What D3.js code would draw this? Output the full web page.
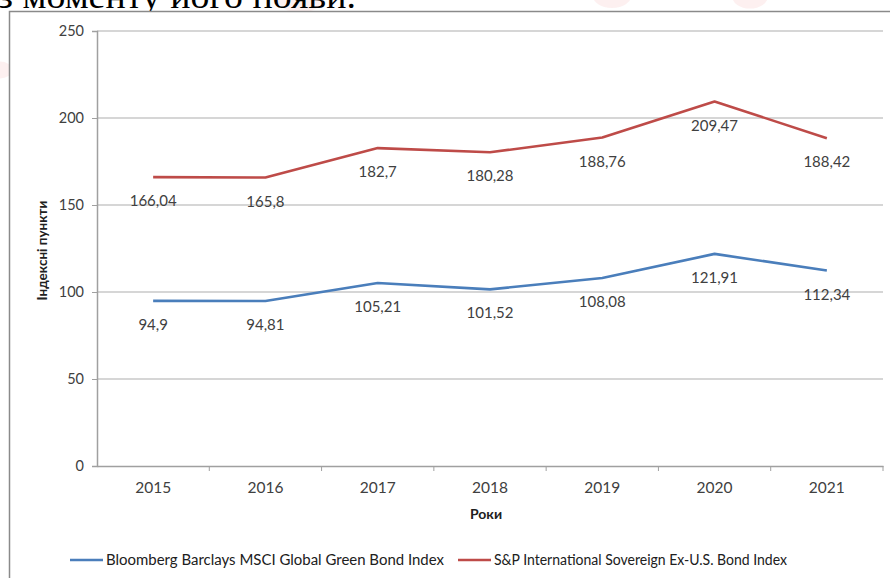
<!DOCTYPE html>
<html>
<head>
<meta charset="utf-8">
<script src="https://cdn.jsdelivr.net/npm/d3@7"></script>
<style>
  body { margin: 0; background: #fff; }
  svg { display: block; }
</style>
</head>
<body>
<div id="chart"></div>
<script>
// data
const years = ["2015", "2016", "2017", "2018", "2019", "2020", "2021"];
const greenBond = [94.9, 94.81, 105.21, 101.52, 108.08, 121.91, 112.34];
const sovereign = [166.04, 165.8, 182.7, 180.28, 188.76, 209.47, 188.42];
const yTicks = [0, 50, 100, 150, 200, 250];
const seriesNames = ["Bloomberg Barclays MSCI Global Green Bond Index",
                     "S&P International Sovereign Ex-U.S. Bond Index"];
const seriesColors = ["#4a7ebb", "#be4b48"];

const W = 890, H = 578;
const margin = {top: 31, right: 7, bottom: 112, left: 97};
const width = W - margin.left - margin.right;
const height = H - margin.top - margin.bottom;
const font = "Lato, 'Open Sans', sans-serif";

const svg = d3.select("#chart").append("svg")
  .attr("width", W).attr("height", H);

/* faint watermark blobs */
[[300, -4, 24], [612, -6, 20], [750, -4, 18], [0, 70, 12]].forEach(b => {
  svg.append("ellipse").attr("cx", b[0]).attr("cy", b[1])
    .attr("rx", b[2]).attr("ry", b[2] * 0.7)
    .attr("fill", "#fbe6e6").attr("opacity", 0.6);
});

/* cut-off text line above the chart */
svg.append("text")
  .attr("x", -2).attr("y", 8)
  .attr("font-family", "'Liberation Serif', 'DejaVu Serif', serif")
  .attr("font-size", 36)
  .attr("textLength", 358)
  .attr("lengthAdjust", "spacingAndGlyphs")
  .attr("fill", "#000")
  .text("з моменту його появи.");

/* chart frame */
svg.append("rect")
  .attr("x", 9.5).attr("y", 11.5)
  .attr("width", 900).attr("height", 600)
  .attr("fill", "#fff")
  .attr("stroke", "#8a8a8a").attr("stroke-width", 1.5);

const g = svg.append("g")
  .attr("transform", "translate(" + margin.left + "," + margin.top + ")");

const x = d3.scaleBand().domain(years).range([0, width]);
const y = d3.scaleLinear().domain([0, 250]).range([height, 0]);

/* gridlines */
g.selectAll(".grid").data(yTicks.filter(d => d > 0)).enter()
  .append("line")
  .attr("x1", 0).attr("x2", width)
  .attr("y1", d => y(d)).attr("y2", d => y(d))
  .attr("stroke", "#c8c8c8").attr("stroke-width", 1.5);

/* y axis */
const yAxis = g.append("g")
  .call(d3.axisLeft(y).tickValues(yTicks).tickSize(5).tickPadding(8));
yAxis.select(".domain").attr("stroke", "#a0a0a0").attr("stroke-width", 1.5);
yAxis.selectAll(".tick line").attr("stroke", "#a0a0a0");
yAxis.selectAll("text").attr("font-family", font).attr("font-size", 14.5)
  .attr("fill", "#404040");

/* x axis */
const xAxis = g.append("g")
  .attr("transform", "translate(0," + height + ")")
  .call(d3.axisBottom(x).tickSize(0).tickPadding(16));
xAxis.select(".domain").attr("stroke", "#a0a0a0").attr("stroke-width", 1.5);
xAxis.selectAll("text").attr("font-family", font).attr("font-size", 15.5)
  .attr("fill", "#404040");
xAxis.selectAll(".sep").data(years.slice(1).concat(["end"])).enter()
  .append("line")
  .attr("x1", (d, i) => (i + 1) * x.bandwidth())
  .attr("x2", (d, i) => (i + 1) * x.bandwidth())
  .attr("y1", 0).attr("y2", 5)
  .attr("stroke", "#a0a0a0");

/* axis titles */
g.append("text")
  .attr("x", width / 2 - 4).attr("y", height + 53)
  .attr("text-anchor", "middle")
  .attr("font-family", font).attr("font-size", 14).attr("font-weight", "bold")
  .attr("fill", "#202020")
  .text("Роки");
g.append("text")
  .attr("transform", "translate(" + (-50) + "," + (y(125) + 2) + ") rotate(-90)")
  .attr("text-anchor", "middle")
  .attr("font-family", font).attr("font-size", 13.5).attr("font-weight", "bold")
  .attr("fill", "#202020")
  .text("Індексні пункти");

/* lines + labels */
const line = d3.line()
  .x((d, i) => x(years[i]) + x.bandwidth() / 2)
  .y(d => y(d));

[greenBond, sovereign].forEach((vals, k) => {
  g.append("path")
    .datum(vals)
    .attr("fill", "none")
    .attr("stroke", seriesColors[k])
    .attr("stroke-width", 2.6)
    .attr("stroke-linejoin", "round")
    .attr("d", line);
  g.selectAll(".lbl" + k).data(vals).enter()
    .append("text")
    .attr("x", (d, i) => x(years[i]) + x.bandwidth() / 2)
    .attr("y", d => y(d) + 29)
    .attr("text-anchor", "middle")
    .attr("font-family", font).attr("font-size", 15)
    .attr("fill", "#404040")
    .text(d => String(d).replace(".", ","));
});

/* legend */
const legX = [70, 458];
const legLen = [338, 293];
seriesNames.forEach((name, k) => {
  const lg = svg.append("g").attr("transform", "translate(" + legX[k] + ",560)");
  lg.append("line").attr("x1", 0).attr("x2", 33)
    .attr("stroke", seriesColors[k]).attr("stroke-width", 2.6);
  lg.append("text").attr("x", 36).attr("y", 5)
    .attr("font-family", font).attr("font-size", 14.5)
    .attr("textLength", legLen[k])
    .attr("lengthAdjust", "spacingAndGlyphs")
    .attr("fill", "#202020")
    .text(name);
});
</script>
</body>
</html>
